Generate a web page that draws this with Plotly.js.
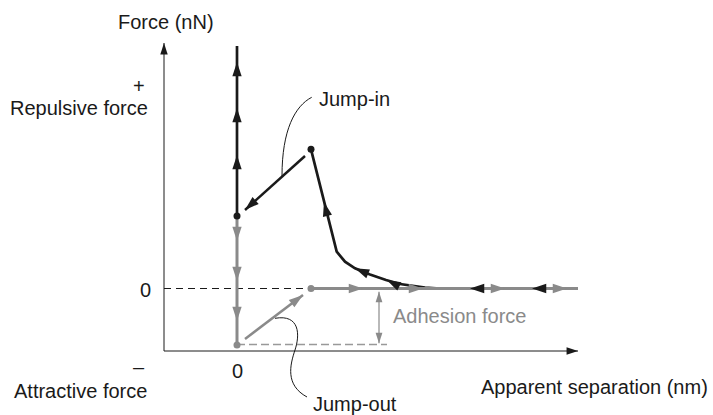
<!DOCTYPE html>
<html>
<head>
<meta charset="utf-8">
<script src="https://cdn.plot.ly/plotly-3.0.1.min.js"></script>
<style>html,body{margin:0;padding:0;background:#fff;}#chart{width:713px;height:415px;}</style>
</head>
<body>
<div id="chart"></div>
<script>
// ---- data (schematic force–separation curve; x: separation, y: force) ----
const axisCornerX = -7.3, axisCornerY = -6.25, axisTopY = 24.55, axisRightX = 34.1;

// approach (black): from far right toward the jump-in point
const approachX = [34.1, 20.3, 18.8, 16.3, 14.9, 13.3, 11.8, 10.8, 9.97, 7.4];
const approachY = [0, 0, 0.08, 0.45, 0.85, 1.4, 2.02, 2.68, 3.68, 13.92];
// jump-in (black)
const jumpInX = [6.8, 0.8];
const jumpInY = [13.25, 7.85];
// contact, loading (black)
const contactX = [0, 0];
const contactY = [7.25, 24.25];
// retraction (gray): unloading down to adhesion minimum
const retractX = [0, 0];
const retractY = [7.25, -5.65];
// jump-out (gray)
const jumpOutX = [0.8, 6.6];
const jumpOutY = [-5.05, -0.65];
// retraction flat part (gray)
const flatX = [7.4, 34.1];
const flatY = [0, 0];
// zero-force dashed line and adhesion level
const zeroLineX = [-7.3, 7.4];
const zeroLineY = [0, 0];
const adhLevelX = [0, 15.0];
const adhLevelY = [-5.6, -5.6];
// adhesion force double arrow
const adhArrowX = [14.2, 14.2];
const adhArrowY = [-0.32, -5.48];
// key points
const blackDotX = [0, 7.4];
const blackDotY = [7.25, 13.92];
const grayDotX = [0, 7.4];
const grayDotY = [-5.65, 0];
// arrowheads (tip positions and direction, degrees clockwise from up)
const blackArrowX = [0, 0, 0, 8.7, 11.8, 14.97, 23.3, 29.5, 0.8];
const blackArrowY = [22.65, 18.05, 13.35, 8.65, 2.02, 0.85, 0, 0, 7.85];
const blackArrowDir = [0, 0, 0, -14, -67, -63, -90, -90, -132];
const grayArrowX = [0, 0, 0, 6.6, 12.6, 18.6, 26.8, 33.0];
const grayArrowY = [4.75, 0.75, -3.25, -0.65, 0, 0, 0, 0];
const grayArrowDir = [180, 180, 180, 53, 90, 90, 90, 90];
// leader curves (Bezier control points)
const jumpInLeader = [[7.47, 19.12], [5.8, 18.25], [4.5, 15.85], [4.5, 11.25]];
const jumpOutLeader = [[3.8, -2.98], [6.3, -2.55], [6.3, -4.65], [5.8, -6.15], [4.8, -9.65], [7.0, -10.85]];
// text labels
const labelText = ['Force (nN)', '+', 'Repulsive force', '0', '\u2013', '0', 'Attractive force',
  'Apparent separation (nm)', 'Adhesion force', 'Jump-in', 'Jump-out'];
const labelX = [-7.1, -9.83, -15.8, -9.2, -9.83, 0, -15.65, 35.75, 22.25, 11.7, 11.8];
const labelY = [26.65, 20.25, 18.02, -0.15, -7.85, -8.2, -10.25, -9.85, -2.7, 18.95, -11.55];

// ---- styles ----
const BLACK = '#1a1a1a', GRAY = '#8a8a8a', FONT = 'Liberation Sans, Arial, Helvetica, sans-serif';

function line(x, y, color, width, dash) {
  return {x, y, type: 'scatter', mode: 'lines', hoverinfo: 'skip', cliponaxis: false,
    line: {color, width, dash: dash || 'solid'}};
}
function arrows(x, y, angle, color, size) {
  return {x, y, type: 'scatter', mode: 'markers', hoverinfo: 'skip', cliponaxis: false,
    marker: {symbol: 'arrow', size, color, angle, angleref: 'up', line: {width: 0}}};
}
const p = pt => pt[0] + ',' + pt[1];

const traces = [
  line([axisCornerX, axisCornerX], [axisCornerY, axisTopY], BLACK, 1),
  line([axisCornerX, axisRightX], [axisCornerY, axisCornerY], BLACK, 1),
  line(zeroLineX, zeroLineY, BLACK, 1.2, '7px,5px'),
  line(adhLevelX, adhLevelY, '#999999', 1.5, '8px,4px'),
  line(approachX, approachY, BLACK, 2.7),
  line(flatX, flatY, GRAY, 3),
  line(contactX, contactY, BLACK, 2.7),
  line(retractX, retractY, GRAY, 3),
  line(jumpInX, jumpInY, BLACK, 2.5),
  line(jumpOutX, jumpOutY, GRAY, 2.5),
  line(adhArrowX, adhArrowY, GRAY, 1.2),
  arrows(grayArrowX, grayArrowY, grayArrowDir, GRAY, 15),
  arrows(blackArrowX, blackArrowY, blackArrowDir, BLACK, 15),
  arrows(adhArrowX, adhArrowY, [0, 180], GRAY, 11),
  arrows([axisCornerX, axisRightX], [axisTopY, axisCornerY], [0, 90], BLACK, 12),
  {x: grayDotX, y: grayDotY, type: 'scatter', mode: 'markers', hoverinfo: 'skip', cliponaxis: false,
    marker: {symbol: 'circle', size: 7, color: GRAY}},
  {x: blackDotX, y: blackDotY, type: 'scatter', mode: 'markers', hoverinfo: 'skip', cliponaxis: false,
    marker: {symbol: 'circle', size: 7, color: BLACK}}
];

const annotations = labelText.map((t, i) => ({
  text: t, x: labelX[i], y: labelY[i], xref: 'x', yref: 'y', showarrow: false,
  xanchor: 'center', yanchor: 'middle',
  font: {family: FONT, size: 20, color: t === 'Adhesion force' ? GRAY : BLACK}
}));

const shapes = [
  {type: 'path', xref: 'x', yref: 'y', layer: 'above', line: {color: BLACK, width: 1},
    path: 'M' + p(jumpInLeader[0]) + ' C' + p(jumpInLeader[1]) + ' ' + p(jumpInLeader[2]) + ' ' + p(jumpInLeader[3])},
  {type: 'path', xref: 'x', yref: 'y', layer: 'above', line: {color: BLACK, width: 1},
    path: 'M' + p(jumpOutLeader[0]) + ' C' + p(jumpOutLeader[1]) + ' ' + p(jumpOutLeader[2]) + ' ' + p(jumpOutLeader[3]) +
      ' S' + p(jumpOutLeader[4]) + ' ' + p(jumpOutLeader[5])}
];

const layout = {
  width: 713, height: 415,
  margin: {l: 0, r: 0, t: 0, b: 0, pad: 0},
  paper_bgcolor: '#ffffff', plot_bgcolor: '#ffffff',
  showlegend: false,
  xaxis: {range: [-23.7, 47.6], visible: false, fixedrange: true},
  yaxis: {range: [-12.65, 28.85], visible: false, fixedrange: true},
  annotations, shapes,
  font: {family: FONT, color: BLACK}
};

Plotly.newPlot('chart', traces, layout, {displayModeBar: false, staticPlot: true});
</script>
</body>
</html>
